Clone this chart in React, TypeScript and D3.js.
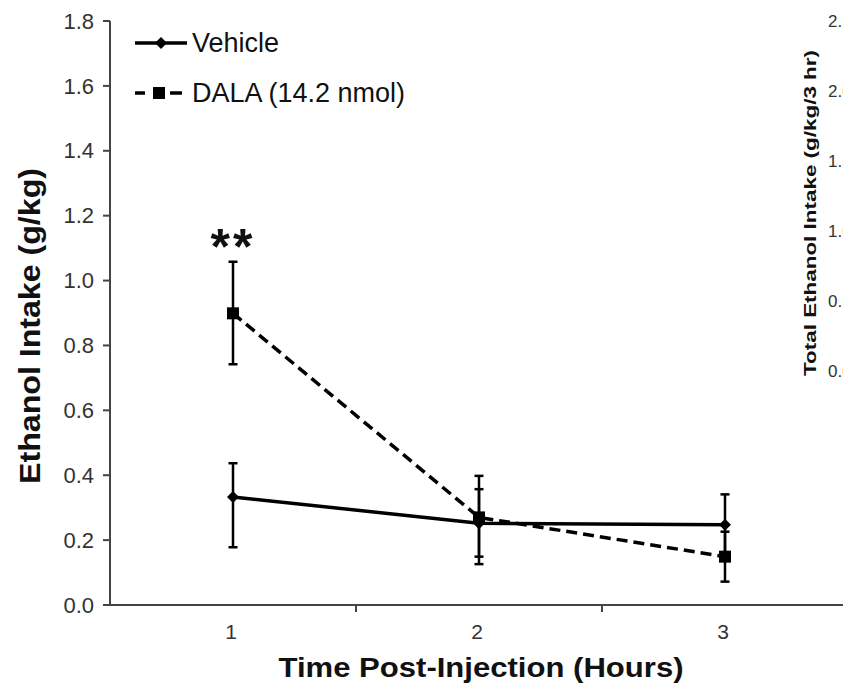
import React from "react";
import * as d3 from "d3";

const categories = ["1", "2", "3"];
const vehicleMean = [0.333, 0.252, 0.247];
const vehicleUpper = [0.437, 0.357, 0.341];
const vehicleLower = [0.178, 0.149, 0.153];
const dalaMean = [0.899, 0.27, 0.149];
const dalaUpper = [1.058, 0.398, 0.226];
const dalaLower = [0.742, 0.126, 0.072];
const yTicks = [0, 0.2, 0.4, 0.6, 0.8, 1.0, 1.2, 1.4, 1.6, 1.8];
const rightTicks = [0, 0.5, 1.0, 1.5, 2.0, 2.5];
const seriesNames = ["Vehicle", "DALA (14.2 nmol)"];

const W = 843;
const H = 696;

export default function App() {
  const x = d3.scaleBand<string>().domain(categories).range([110, 848]);
  const y = d3.scaleLinear().domain([0, 1.8]).range([605, 21]);
  const yR = d3.scaleLinear().domain([0, 2.5]).range([371, 21]);
  const cx = (c: string) => (x(c) as number) + x.bandwidth() / 2;

  const line = d3
    .line<number>()
    .x((_, i) => cx(categories[i]))
    .y((d) => y(d));

  const diamond = d3.symbol(d3.symbolSquare, 72)();
  const square = d3.symbol(d3.symbolSquare, 144)();

  const boundaries = categories.slice(1).map((c) => x(c) as number);
  const font = "Arial, 'Liberation Sans', sans-serif";

  const errorBars = (upper: number[], lower: number[], key: string) =>
    categories.map((c, i) => (
      <g key={key + i} stroke="#000" strokeWidth={2.5}>
        <line x1={cx(c)} x2={cx(c)} y1={y(upper[i])} y2={y(lower[i])} />
        <line x1={cx(c) - 4.5} x2={cx(c) + 4.5} y1={y(upper[i])} y2={y(upper[i])} />
        <line x1={cx(c) - 4.5} x2={cx(c) + 4.5} y1={y(lower[i])} y2={y(lower[i])} />
      </g>
    ));

  return (
    <svg
      width={W}
      height={H}
      style={{ position: "absolute", left: 0, top: 0, background: "#fff" }}
      fontFamily={font}
    >
      <rect width={W} height={H} fill="#fff" />
      {/* Right cut-off panel */}
      {rightTicks.map((t) => (
        <text key={"r" + t} x={828} y={yR(t)} dy="0.35em" fontSize={17} fill="#333">
          {t.toFixed(1)}
        </text>
      ))}
      <text
        transform="translate(816,213) rotate(-90)"
        textAnchor="middle"
        fontSize={17}
        fontWeight="bold"
        fill="#111"
        textLength={326}
        lengthAdjust="spacingAndGlyphs"
      >
        Total Ethanol Intake (g/kg/3 hr)
      </text>

      {/* Y axis */}
      <line x1={110} x2={110} y1={y(1.8)} y2={y(0)} stroke="#444" strokeWidth={2} />
      {yTicks.map((t) => (
        <g key={"y" + t}>
          <line x1={103} x2={110} y1={y(t)} y2={y(t)} stroke="#444" strokeWidth={2} />
          <text x={94} y={y(t)} dy="0.35em" textAnchor="end" fontSize={22} fill="#333">
            {t.toFixed(1)}
          </text>
        </g>
      ))}
      <text
        transform="translate(40,326) rotate(-90)"
        textAnchor="middle"
        fontSize={30}
        fontWeight="bold"
        fill="#111"
        textLength={316}
        lengthAdjust="spacingAndGlyphs"
      >
        Ethanol Intake (g/kg)
      </text>

      {/* X axis */}
      <line x1={110} x2={W} y1={605} y2={605} stroke="#444" strokeWidth={2} />
      {boundaries.map((b) => (
        <line key={"b" + b} x1={b} x2={b} y1={605} y2={612} stroke="#444" strokeWidth={2} />
      ))}
      {categories.map((c) => (
        <text key={"x" + c} x={cx(c) - 2} y={632} dy="0.35em" textAnchor="middle" fontSize={21} fill="#333">
          {c}
        </text>
      ))}
      <text
        x={481}
        y={677}
        textAnchor="middle"
        fontSize={27}
        fontWeight="bold"
        fill="#111"
        textLength={405}
        lengthAdjust="spacingAndGlyphs"
      >
        Time Post-Injection (Hours)
      </text>

      {/* Error bars */}
      {errorBars(vehicleUpper, vehicleLower, "ve")}
      {errorBars(dalaUpper, dalaLower, "de")}

      {/* Lines */}
      <path d={line(vehicleMean) || ""} fill="none" stroke="#000" strokeWidth={3.5} />
      <path d={line(dalaMean) || ""} fill="none" stroke="#000" strokeWidth={3.5} strokeDasharray="11,6" />

      {/* Markers */}
      {vehicleMean.map((v, i) => (
        <path
          key={"vm" + i}
          d={diamond || ""}
          transform={`translate(${cx(categories[i])},${y(v)}) rotate(45)`}
          fill="#000"
        />
      ))}
      {dalaMean.map((v, i) => (
        <path key={"dm" + i} d={square || ""} transform={`translate(${cx(categories[i])},${y(v)})`} fill="#000" />
      ))}

      {/* Significance */}
      <text x={cx("1")} y={264} textAnchor="middle" fontSize={50} fontWeight="bold" fill="#111" letterSpacing={3}>
        **
      </text>

      {/* Legend */}
      <line x1={135} x2={187} y1={43} y2={43} stroke="#000" strokeWidth={3.5} />
      <path d={diamond || ""} transform="translate(161,43) rotate(45)" fill="#000" />
      <text x={192} y={43} dy="0.35em" fontSize={27} fill="#111">
        {seriesNames[0]}
      </text>
      <line x1={135} x2={145} y1={93} y2={93} stroke="#000" strokeWidth={3.5} />
      <line x1={170} x2={182} y1={93} y2={93} stroke="#000" strokeWidth={3.5} />
      <path d={square || ""} transform="translate(159,93)" fill="#000" />
      <text x={192} y={93} dy="0.35em" fontSize={27} fill="#111">
        {seriesNames[1]}
      </text>
    </svg>
  );
}
